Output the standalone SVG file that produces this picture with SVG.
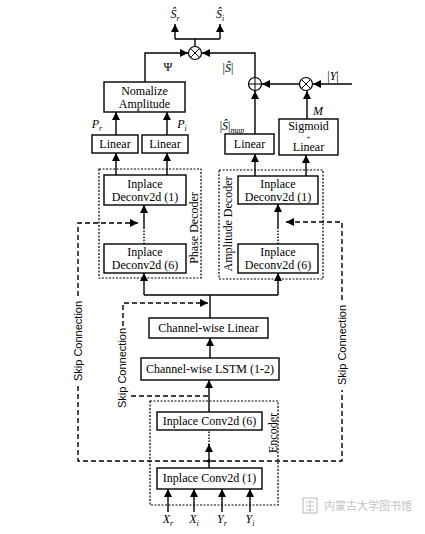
<svg xmlns="http://www.w3.org/2000/svg" width="425" height="534" viewBox="0 0 425 534">
<defs>
<marker id="ah" viewBox="0 0 10 10" refX="10" refY="5" markerWidth="8" markerHeight="8" markerUnits="userSpaceOnUse" orient="auto">
<path d="M0,0 L10,5 L0,10 Z" fill="#000"/>
</marker>
</defs>
<style>
.box{fill:#fff;stroke:#000;stroke-width:1.4}
.grp{fill:none;stroke:#000;stroke-width:1.2;stroke-dasharray:2 1.5}
.ln{fill:none;stroke:#000;stroke-width:1.4}
.arr{fill:none;stroke:#000;stroke-width:1.4;marker-end:url(#ah)}
.dsh{fill:none;stroke:#000;stroke-width:1.4;stroke-dasharray:5 3}
.dot{fill:none;stroke:#000;stroke-width:1.4;stroke-dasharray:1.5 1.5}
.t{font-family:"Liberation Serif","Times New Roman",serif;font-size:12px;fill:#000;text-anchor:middle}
.it{font-style:italic}
.s{font-family:"Liberation Sans",Arial,sans-serif;font-size:11px;fill:#000;text-anchor:middle}
.op{fill:#fff;stroke:#000;stroke-width:1.2}
</style>
<rect width="425" height="534" fill="#fff"/>

<g id="connectors">
<path class="ln" d="M195,46.5 V39 M175,39 H220"/>
<path class="arr" d="M175,39 V24"/>
<path class="arr" d="M220,39 V24"/>
<path class="arr" d="M145,82 V53 H188"/>
<path class="arr" d="M255,77.5 V53 H202"/>
<path class="arr" d="M299.5,84 H262"/>
<path class="arr" d="M352,84 H313"/>
<path class="arr" d="M255,134 V91"/>
<path class="arr" d="M307,119 V91"/>
<path class="arr" d="M116,135 V112"/>
<path class="arr" d="M167,135 V112"/>
<path class="arr" d="M116,175 V153"/>
<path class="arr" d="M167,175 V153"/>
<path class="arr" d="M255,176 V154"/>
<path class="arr" d="M306,176 V155"/>
<path class="dot" d="M144,244 V228"/>
<path class="arr" d="M144,228 V205"/>
<path class="dot" d="M278,244 V228"/>
<path class="arr" d="M278,228 V204"/>
<path class="ln" d="M210,318 V295 M144,295 H278"/>
<path class="arr" d="M144,295 V273"/>
<path class="arr" d="M278,295 V273"/>
<path class="arr" d="M210,358 V338"/>
<path class="arr" d="M209,412 V380"/>
<path class="dot" d="M209,445 V431"/>
<path class="arr" d="M209,468 V444"/>
<circle cx="209" cy="461" r="1.8" fill="#000"/>
<path class="arr" d="M168,512 V489"/>
<path class="arr" d="M194,512 V489"/>
<path class="arr" d="M222,512 V489"/>
<path class="arr" d="M250,512 V489"/>
<path class="dsh" d="M78,296 V223 H132"/>
<path class="arr" d="M132,223 H138"/>
<path class="dsh" d="M78,386 V461 H342 V390"/>
<path class="dsh" d="M342,300 V222 H292"/>
<path class="arr" d="M292,222 H286"/>
<path class="dsh" d="M123,326 V303 H202"/>
<path class="arr" d="M202,303 H208"/>
<path class="dsh" d="M131,396 H209"/>
</g>

<g id="node-out-sr"><text class="t it" x="175" y="18">Ŝ<tspan font-size="8" dy="3">r</tspan></text></g>
<g id="node-out-si"><text class="t it" x="220" y="18">Ŝ<tspan font-size="8" dy="3">i</tspan></text></g>
<g id="node-mul1"><circle class="op" cx="195" cy="53" r="6.5"/><path class="ln" d="M190.4,48.4 L199.6,57.6 M199.6,48.4 L190.4,57.6" style="stroke-width:1"/></g>
<g id="node-add"><circle class="op" cx="255" cy="84" r="6.5"/><path class="ln" d="M248.5,84 H261.5 M255,77.5 V90.5" style="stroke-width:1"/></g>
<g id="node-mul2"><circle class="op" cx="306" cy="84" r="6.5"/><path class="ln" d="M301.4,79.4 L310.6,88.6 M310.6,79.4 L301.4,88.6" style="stroke-width:1"/></g>

<g id="labels">
<text class="t" x="168" y="71">Ψ</text>
<text class="t" x="228" y="72">|<tspan class="it">Ŝ</tspan>|</text>
<text class="t" x="333" y="80">|<tspan class="it">Y</tspan>|</text>
<text class="t it" x="318" y="115">M</text>
<text class="t" x="232" y="130">|<tspan class="it">Ŝ</tspan>|<tspan class="it" font-size="8" dy="3">map</tspan></text>
<text class="t it" x="97" y="128">P<tspan font-size="8" dy="3">r</tspan></text>
<text class="t it" x="182" y="128">P<tspan font-size="8" dy="3">i</tspan></text>
</g>

<g id="node-normalize"><rect class="box" x="104" y="82" width="81" height="30"/><text class="t" x="144.5" y="95">Nomalize</text><text class="t" x="144.5" y="108">Amplitude</text></g>
<g id="node-linear-pr"><rect class="box" x="92" y="135" width="46" height="18"/><text class="t" x="115" y="148">Linear</text></g>
<g id="node-linear-pi"><rect class="box" x="142" y="135" width="46" height="18"/><text class="t" x="165" y="148">Linear</text></g>
<g id="node-linear-map"><rect class="box" x="225" y="134" width="49" height="20"/><text class="t" x="249.5" y="148">Linear</text></g>
<g id="node-sigmoid"><rect class="box" x="279" y="119" width="59" height="36"/><text class="t" font-size="11"><tspan x="308.5" y="130">Sigmoid</tspan><tspan x="308.5" y="139.5" font-size="7">+</tspan><tspan x="308.5" y="151">Linear</tspan></text></g>

<g id="node-phase-decoder">
<rect class="grp" x="99" y="169" width="102" height="109"/>
<text class="t" transform="translate(198,228) rotate(-90)">Phase Decoder</text>
<rect class="box" x="104" y="175" width="82" height="30"/><text class="t" x="145" y="188">Inplace</text><text class="t" x="145" y="201">Deconv2d (1)</text>
<rect class="box" x="104" y="244" width="82" height="29"/><text class="t" x="145" y="256">Inplace</text><text class="t" x="145" y="269">Deconv2d (6)</text>
</g>
<g id="node-amp-decoder">
<rect class="grp" x="219" y="170" width="104" height="109"/>
<text class="t" transform="translate(232,224) rotate(-90)">Amplitude Decoder</text>
<rect class="box" x="238" y="176" width="80" height="28"/><text class="t" x="278" y="188">Inplace</text><text class="t" x="278" y="201">Deconv2d (1)</text>
<rect class="box" x="238" y="244" width="80" height="29"/><text class="t" x="278" y="256">Inplace</text><text class="t" x="278" y="269">Deconv2d (6)</text>
</g>
<g id="node-cw-linear"><rect class="box" x="149" y="318" width="119" height="20"/><text class="t" x="208.5" y="332">Channel-wise Linear</text></g>
<g id="node-cw-lstm"><rect class="box" x="141" y="358" width="138" height="22"/><text class="t" x="210" y="373">Channel-wise LSTM (1-2)</text></g>
<g id="node-encoder">
<rect class="grp" x="150" y="401" width="128" height="104"/>
<text class="t" transform="translate(277,433) rotate(-90)">Encoder</text>
<rect class="box" x="157" y="412" width="105" height="18"/><text class="t" x="209.5" y="425">Inplace Conv2d (6)</text>
<rect class="box" x="157" y="468" width="105" height="21"/><text class="t" x="209.5" y="482">Inplace Conv2d (1)</text>
</g>
<g id="inputs">
<text class="t it" x="168" y="523">X<tspan font-size="8" dy="3">r</tspan></text>
<text class="t it" x="194" y="523">X<tspan font-size="8" dy="3">i</tspan></text>
<text class="t it" x="222" y="523">Y<tspan font-size="8" dy="3">r</tspan></text>
<text class="t it" x="250" y="523">Y<tspan font-size="8" dy="3">i</tspan></text>
</g>
<g id="skip-labels">
<text class="s" transform="translate(82,341) rotate(-90)">Skip Connection</text>
<text class="s" transform="translate(126,368) rotate(-90)">Skip Connection</text>
<text class="s" transform="translate(346,345) rotate(-90)">Skip Connection</text>
</g>
<g id="watermark">
<rect x="303" y="498" width="14" height="15" fill="none" stroke="#c4c4c4" stroke-width="1.2"/>
<path d="M306,502 H314 M306,506 H314 M306,510 H314 M310,500 V512" stroke="#c4c4c4" stroke-width="1"/>
<text x="324" y="510" font-family="'Noto Sans CJK SC',sans-serif" font-size="11" fill="#c4c4c4">内蒙古大学图书馆</text>
</g>
</svg>
